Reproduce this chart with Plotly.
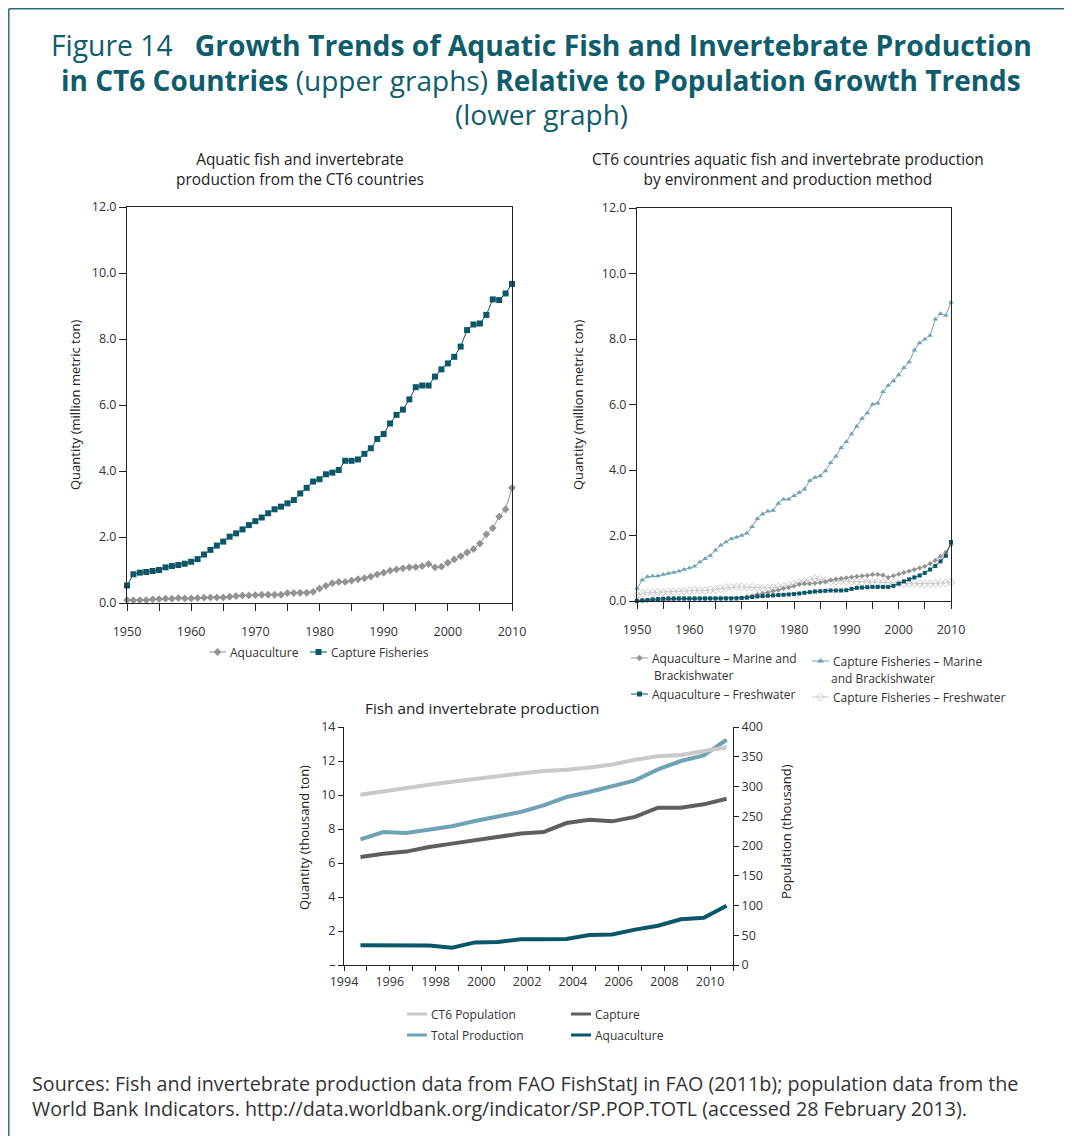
import plotly.graph_objects as go

W, H = 1072, 1136
OFF = 8  # the page body adds an 8px margin around the figure

# ---- upper left: totals 1950-2010 (million metric ton)
years = list(range(1950, 2011))
aquaculture = [0.09, 0.08, 0.09, 0.09, 0.11, 0.12, 0.13, 0.13, 0.15, 0.14,
               0.14, 0.15, 0.16, 0.17, 0.17, 0.17, 0.19, 0.21, 0.23, 0.23,
               0.24, 0.25, 0.25, 0.25, 0.25, 0.30, 0.30, 0.31, 0.31, 0.34,
               0.44, 0.52, 0.60, 0.64, 0.64, 0.68, 0.72, 0.75, 0.80, 0.87,
               0.92, 0.98, 1.02, 1.05, 1.08, 1.09, 1.12, 1.18, 1.08, 1.10,
               1.22, 1.32, 1.42, 1.53, 1.63, 1.80, 2.08, 2.27, 2.62, 2.84, 3.49]
capture = [0.53, 0.87, 0.92, 0.94, 0.97, 1.00, 1.08, 1.12, 1.15, 1.19,
           1.25, 1.33, 1.47, 1.61, 1.74, 1.86, 2.01, 2.11, 2.23, 2.36,
           2.48, 2.59, 2.72, 2.84, 2.92, 3.02, 3.12, 3.32, 3.49, 3.68,
           3.75, 3.90, 3.95, 4.03, 4.31, 4.31, 4.35, 4.52, 4.69, 4.97,
           5.12, 5.44, 5.70, 5.86, 6.17, 6.54, 6.59, 6.59, 6.86, 7.08,
           7.26, 7.46, 7.77, 8.27, 8.44, 8.47, 8.73, 9.20, 9.18, 9.38, 9.67]

# ---- upper right: by environment and method
aqua_marine = [0.02, 0.02, 0.02, 0.03, 0.03, 0.03, 0.04, 0.04, 0.05, 0.05,
               0.05, 0.06, 0.06, 0.06, 0.07, 0.07, 0.07, 0.08, 0.08, 0.09,
               0.10, 0.13, 0.16, 0.20, 0.23, 0.26, 0.30, 0.33, 0.38, 0.41,
               0.45, 0.51, 0.53, 0.53, 0.54, 0.56, 0.59, 0.64, 0.67, 0.69,
               0.71, 0.73, 0.75, 0.77, 0.78, 0.81, 0.81, 0.79, 0.72, 0.77,
               0.82, 0.87, 0.91, 0.96, 1.01, 1.06, 1.14, 1.24, 1.36, 1.49, 1.72]
aqua_fresh = [0.00, 0.02, 0.03, 0.05, 0.06, 0.07, 0.08, 0.08, 0.08, 0.08,
              0.08, 0.08, 0.08, 0.08, 0.08, 0.08, 0.08, 0.08, 0.08, 0.08,
              0.09, 0.10, 0.12, 0.14, 0.15, 0.16, 0.17, 0.18, 0.19, 0.20,
              0.21, 0.23, 0.25, 0.27, 0.29, 0.30, 0.31, 0.32, 0.32, 0.32,
              0.33, 0.37, 0.40, 0.41, 0.42, 0.43, 0.43, 0.43, 0.43, 0.46,
              0.53, 0.60, 0.66, 0.72, 0.78, 0.86, 0.96, 1.07, 1.21, 1.38, 1.80]
cap_marine = [0.38, 0.64, 0.74, 0.76, 0.76, 0.81, 0.84, 0.87, 0.91, 0.96,
              1.01, 1.06, 1.19, 1.29, 1.39, 1.55, 1.70, 1.80, 1.90, 1.95,
              2.00, 2.07, 2.27, 2.51, 2.66, 2.74, 2.76, 2.98, 3.11, 3.11,
              3.21, 3.31, 3.41, 3.67, 3.77, 3.82, 3.97, 4.22, 4.42, 4.68,
              4.86, 5.10, 5.33, 5.57, 5.74, 6.01, 6.04, 6.39, 6.58, 6.72,
              6.90, 7.12, 7.30, 7.66, 7.88, 7.99, 8.11, 8.60, 8.77, 8.72, 9.12]
cap_fresh = [0.18, 0.23, 0.25, 0.26, 0.27, 0.27, 0.27, 0.28, 0.29, 0.30,
             0.31, 0.33, 0.33, 0.32, 0.34, 0.35, 0.38, 0.41, 0.42, 0.43,
             0.43, 0.42, 0.42, 0.40, 0.38, 0.39, 0.41, 0.43, 0.45, 0.48,
             0.52, 0.56, 0.59, 0.64, 0.69, 0.66, 0.62, 0.59, 0.61, 0.62,
             0.61, 0.60, 0.59, 0.59, 0.58, 0.58, 0.58, 0.57, 0.56, 0.55,
             0.53, 0.53, 0.53, 0.53, 0.53, 0.52, 0.52, 0.53, 0.54, 0.55, 0.58]

# ---- lower: 1994-2010
years_b = list(range(1994, 2011))
population = [286, 292, 298, 303, 308, 313, 318, 322, 326, 328, 332, 337, 345, 351, 353, 359, 366]
total_prod = [7.39, 7.82, 7.76, 7.96, 8.16, 8.47, 8.73, 9.00, 9.39, 9.88, 10.18, 10.51, 10.86, 11.51, 12.00, 12.33, 13.25]
capture_b = [6.35, 6.55, 6.67, 6.94, 7.14, 7.33, 7.53, 7.73, 7.82, 8.35, 8.55, 8.45, 8.71, 9.25, 9.25, 9.45, 9.78]
aqua_b = [1.16, 1.16, 1.16, 1.14, 1.02, 1.33, 1.35, 1.51, 1.51, 1.53, 1.76, 1.80, 2.08, 2.31, 2.69, 2.78, 3.49]

TEAL = "#0b5768"
GRAY = "#939393"
LTEAL = "#6fa2b4"
LGRAY = "#c9c9c9"
DGRAY = "#5f5f5f"
TITLE = "#0f5c6c"
TXT = "#333333"
FONT = "Open Sans"


def fx(p):
    return (p - OFF) / W


def fy(p):
    return 1 - (p - OFF) / H


xb = [y + 0.72 for y in years_b]  # points sit between the year ticks

fig = go.Figure()


def series(x, y, color, xa, ya, width=1, symbol=None, size=6, open_marker=False):
    mk = dict(symbol=symbol, size=size, color=color)
    if open_marker:
        mk["line"] = dict(width=1, color=color)
    fig.add_trace(go.Scatter(x=x, y=y, mode="lines+markers" if symbol else "lines",
                             line=dict(color=color, width=width), marker=mk if symbol else None,
                             xaxis=xa, yaxis=ya, cliponaxis=False, hoverinfo="skip"))


series(years, aquaculture, GRAY, "x", "y", symbol="diamond", size=6)
series(years, capture, TEAL, "x", "y", symbol="square", size=6)

series(years, cap_fresh, LGRAY, "x2", "y2", symbol="diamond-open", size=6, open_marker=True)
series(years, aqua_marine, GRAY, "x2", "y2", symbol="diamond", size=4)
series(years, aqua_fresh, TEAL, "x2", "y2", symbol="square", size=4)
series(years, cap_marine, LTEAL, "x2", "y2", symbol="triangle-up", size=5)

series(xb, population, LGRAY, "x3", "y4", width=4)
series(xb, total_prod, LTEAL, "x3", "y3", width=4)
series(xb, capture_b, DGRAY, "x3", "y3", width=4)
series(xb, aqua_b, TEAL, "x3", "y3", width=4)

tickfont = dict(family=FONT, size=12.5, color=TXT)
box = dict(showline=True, linecolor="#222", linewidth=1, mirror=True, showgrid=False, zeroline=False,
           ticks="outside", ticklen=7, tickcolor="#222", tickfont=tickfont, automargin=False)
open_ax = dict(showline=True, linecolor="#222", linewidth=1, showgrid=False, zeroline=False,
               ticks="outside", ticklen=5, tickcolor="#222", tickfont=tickfont, automargin=False)
year_minor = dict(dtick=5, ticks="outside", ticklen=7, tickcolor="#222")

fig.update_layout(
    template="none",
    width=W, height=H, margin=dict(l=0, r=0, t=0, b=0, pad=0), autosize=False,
    paper_bgcolor="white", plot_bgcolor="rgba(0,0,0,0)",
    font=dict(family=FONT, color=TXT),
    showlegend=False,
    xaxis=dict(box, domain=[fx(127), fx(512)], anchor="y", range=[1950, 2010], tick0=1950, dtick=10,
               minor=year_minor, ticklabelstandoff=10),
    yaxis=dict(box, domain=[fy(603), fy(207)], anchor="x", range=[0, 12], dtick=2, tickformat=".1f"),
    xaxis2=dict(box, domain=[fx(637), fx(951)], anchor="y2", range=[1950, 2010], tick0=1950, dtick=10,
                minor=year_minor, ticklabelstandoff=10),
    yaxis2=dict(box, domain=[fy(601), fy(208)], anchor="x2", range=[0, 12], dtick=2, tickformat=".1f"),
    xaxis3=dict(open_ax, domain=[fx(344), fx(733)], anchor="y3", range=[1994, 2011],
                tickvals=list(range(1994, 2011, 2)),
                minor=dict(dtick=1, tick0=1994, ticks="outside", ticklen=5, tickcolor="#222")),
    yaxis3=dict(open_ax, domain=[fy(965), fy(727)], anchor="x3", range=[0, 14],
                tickvals=list(range(0, 15, 2)), ticktext=["–"] + [str(v) for v in range(2, 15, 2)]),
    yaxis4=dict(open_ax, overlaying="y3", anchor="x3", side="right", range=[0, 400], dtick=50),
    # full-page helper axes (screen pixels) for the legend keys
    xaxis5=dict(domain=[0, 1], range=[OFF, W + OFF], visible=False, anchor="y5"),
    yaxis5=dict(domain=[0, 1], range=[H + OFF, OFF], visible=False, anchor="x5"),
)

ann = []


def text(x, y, s, size, color=TXT, angle=0, anchor="center"):
    ann.append(dict(x=fx(x), y=fy(y), xref="paper", yref="paper", text=s, showarrow=False,
                    xanchor=anchor, yanchor="middle", textangle=angle,
                    font=dict(family=FONT, size=size, color=color)))


def key(x0, y, name, color, width=1, symbol=None, size=6, open_marker=False, length=17):
    fig.add_trace(go.Scatter(x=[x0, x0 + length], y=[y, y], mode="lines", line=dict(color=color, width=width),
                             xaxis="x5", yaxis="y5", hoverinfo="skip", cliponaxis=False))
    if symbol:
        mk = dict(symbol=symbol, size=size, color=color)
        if open_marker:
            mk["line"] = dict(width=1, color=color)
        fig.add_trace(go.Scatter(x=[x0 + length / 2], y=[y], mode="markers", marker=mk,
                                 xaxis="x5", yaxis="y5", hoverinfo="skip", cliponaxis=False))
    text(x0 + length + 2, y, name, 12, TXT, anchor="left")


# legends
key(209, 652, "Aquaculture", GRAY, symbol="diamond", size=6)
key(310, 652, "Capture Fisheries", TEAL, symbol="square", size=6)

key(631, 658, "Aquaculture – Marine and", GRAY, symbol="diamond", size=5)
text(652, 675, "Brackishwater", 12, TXT, anchor="left")
key(812, 661, "Capture Fisheries – Marine", LTEAL, symbol="triangle-up", size=6)
text(829, 678, "and Brackishwater", 12, TXT, anchor="left")
key(631, 694, "Aquaculture – Freshwater", TEAL, symbol="square", size=5)
key(812, 697, "Capture Fisheries – Freshwater", LGRAY, symbol="diamond-open", size=6, open_marker=True)

key(407, 1014, "CT6 Population", LGRAY, width=3, length=20)
key(571, 1014, "Capture", DGRAY, width=3, length=20)
key(407, 1035, "Total Production", LTEAL, width=3, length=20)
key(571, 1035, "Aquaculture", TEAL, width=3, length=20)

text(541, 45, "Figure 14\u00a0\u00a0\u00a0<b>Growth Trends of Aquatic Fish and Invertebrate Production</b>", 28.3, TITLE)
text(541, 80, "<b>in CT6 Countries</b> (upper graphs) <b>Relative to Population Growth Trends</b>", 28, TITLE)
text(541, 114, "(lower graph)", 28, TITLE)

text(300, 170, "Aquatic fish and invertebrate<br>production from the CT6 countries", 15.4, "#222")
text(788, 170, "CT6 countries aquatic fish and invertebrate production<br>by environment and production method", 15.4, "#222")
text(482, 708, "Fish and invertebrate production", 15.3, "#222")

text(75, 405, "Quantity (million metric ton)", 13, "#222", -90)
text(578, 405, "Quantity (million metric ton)", 13, "#222", -90)
text(304, 838, "Quantity (thousand ton)", 13, "#222", -90)
text(786, 832, "Population (thousand)", 13, "#222", -90)

text(30, 1083, "Sources: Fish and invertebrate production data from FAO FishStatJ in FAO (2011b); population data from the", 19.7, TXT, anchor="left")
text(30, 1108, "World Bank Indicators. http://data.worldbank.org/indicator/SP.POP.TOTL (accessed 28 February 2013).", 19.7, TXT, anchor="left")

fig.update_layout(annotations=ann)

# teal frame (top and left edges)
fig.add_shape(type="line", xref="paper", yref="paper", x0=fx(8.8), x1=1, y0=fy(8.8), y1=fy(8.8),
              line=dict(color="#2a6d7c", width=1.5))
fig.add_shape(type="line", xref="paper", yref="paper", x0=fx(8.8), x1=fx(8.8), y0=0, y1=fy(8.8),
              line=dict(color="#2a6d7c", width=1.5))

fig.write_html("out.html")
